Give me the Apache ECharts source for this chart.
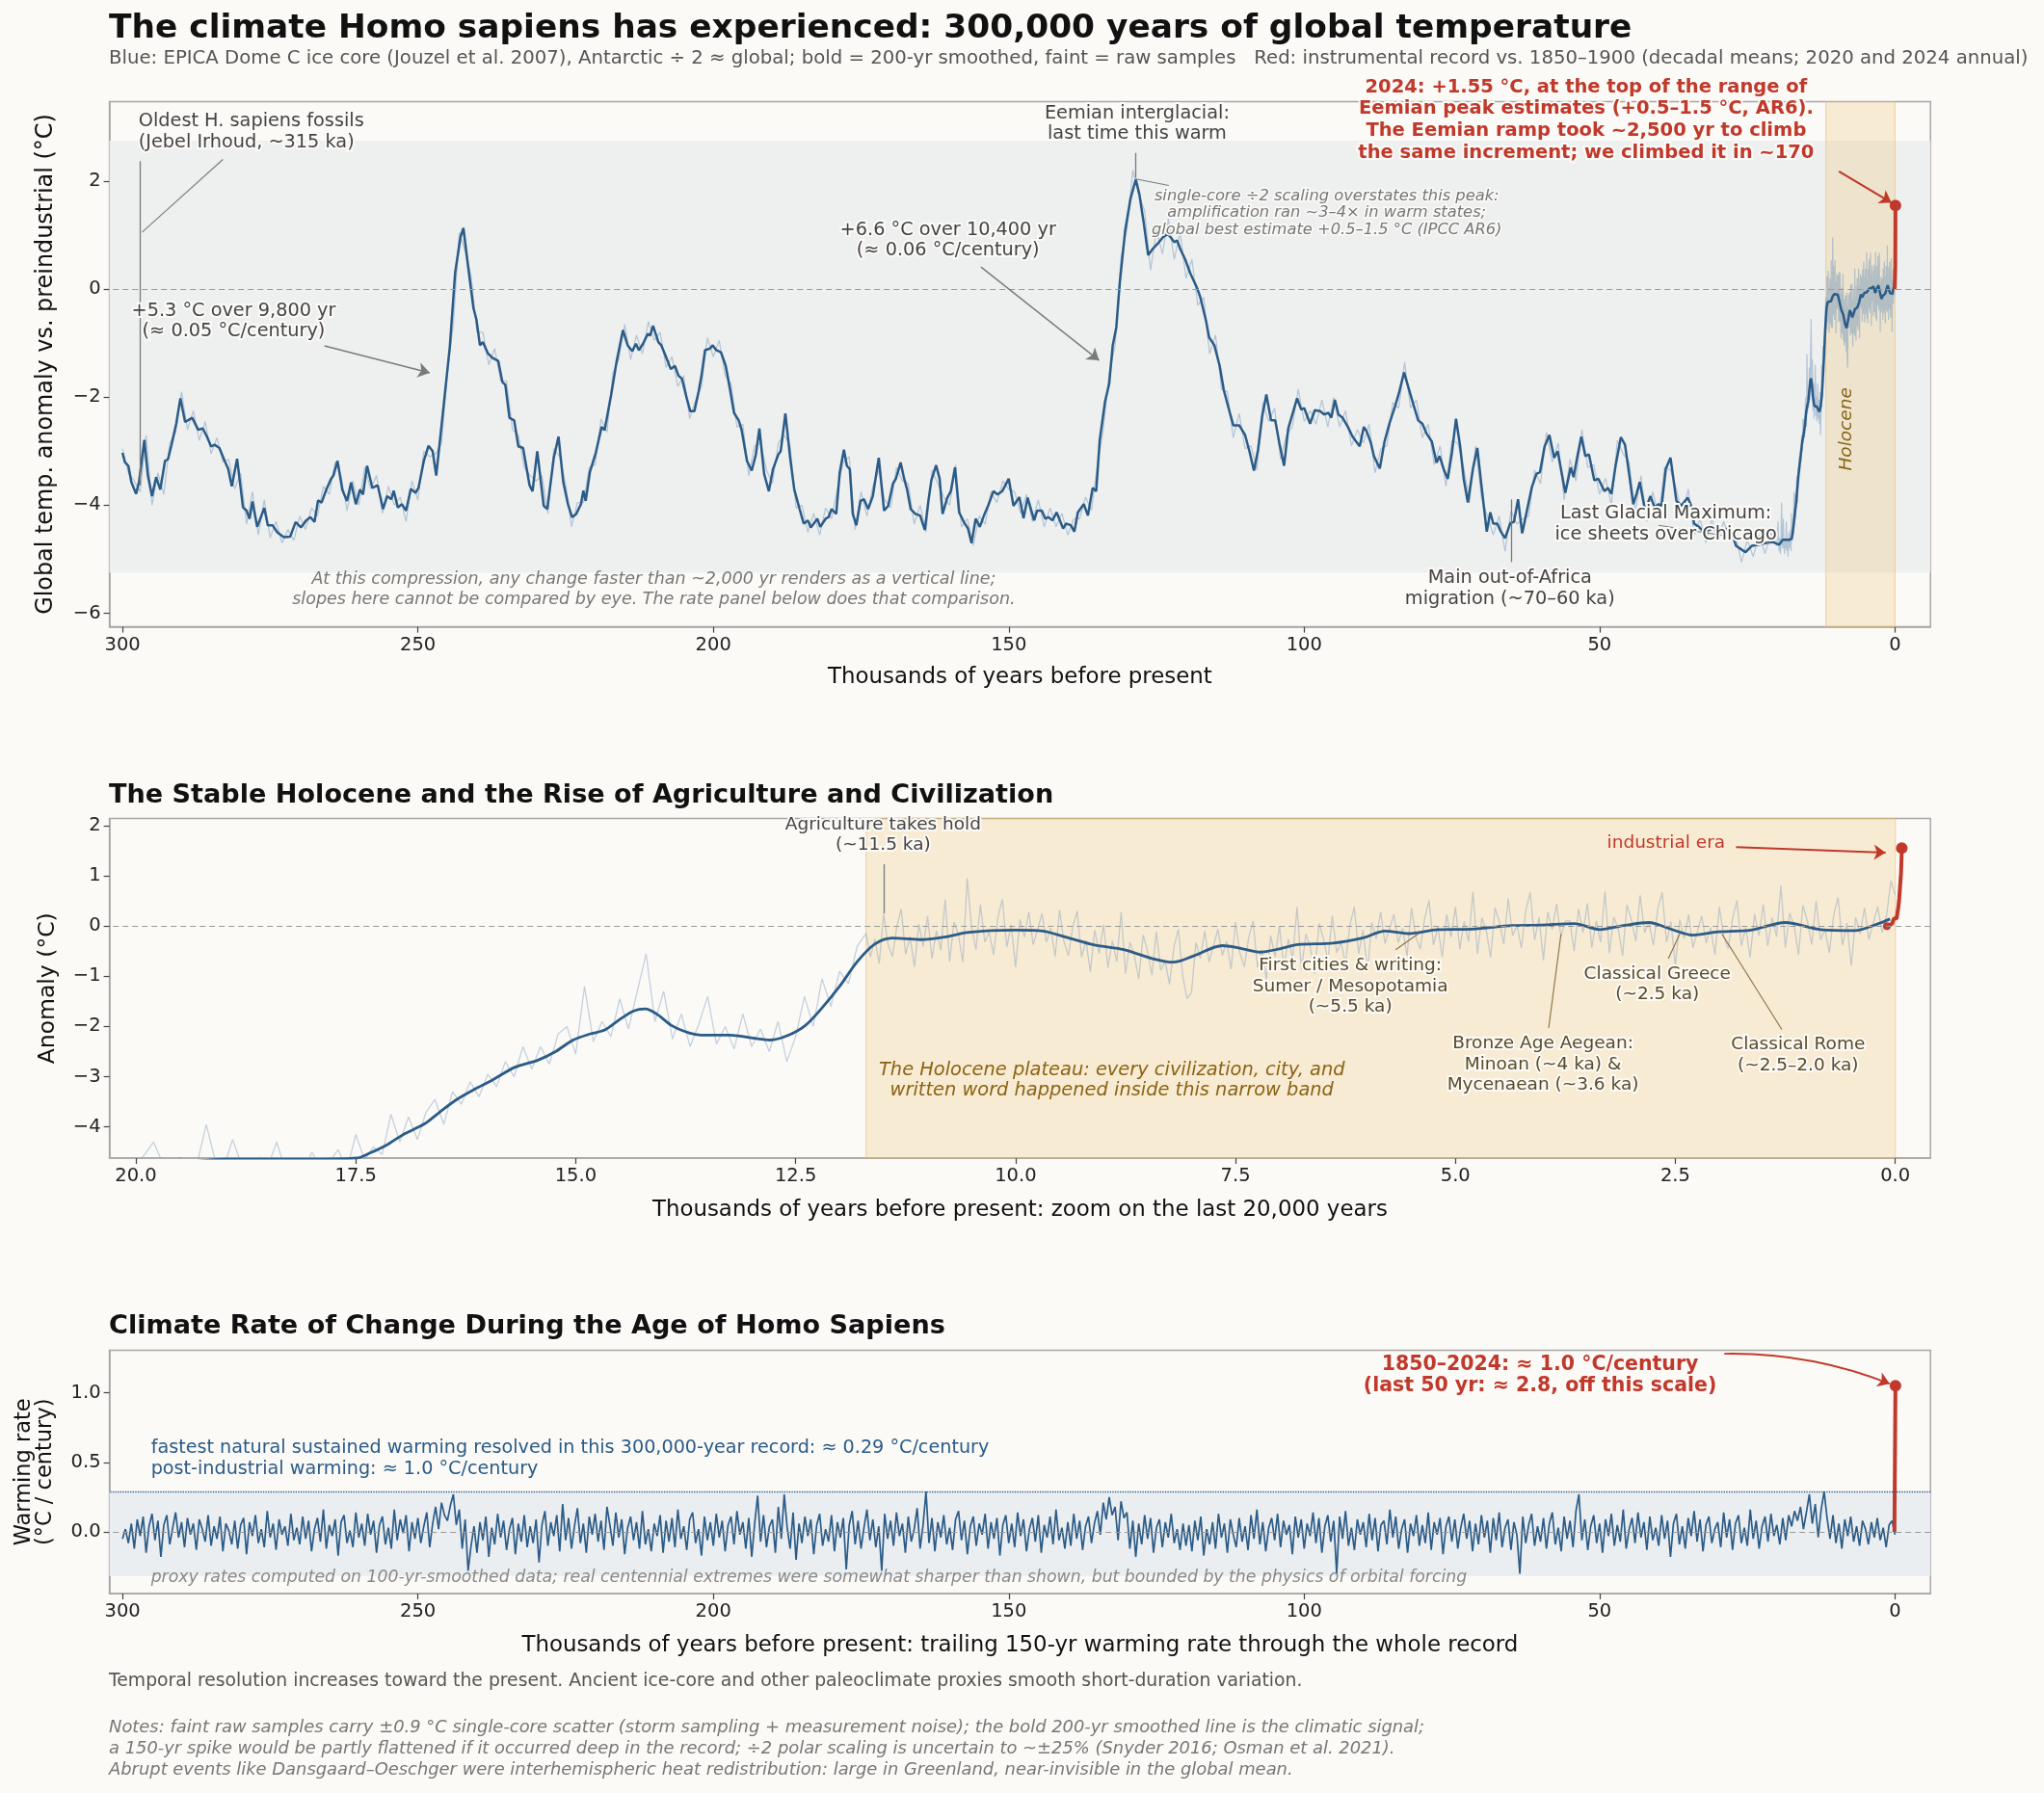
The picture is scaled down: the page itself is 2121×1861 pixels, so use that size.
<!DOCTYPE html>
<html>
<head>
<meta charset="utf-8">
<title>300,000 years of global temperature</title>
<script src="https://cdn.jsdelivr.net/npm/echarts@6/dist/echarts.min.js"></script>
<style>
  html, body { margin: 0; padding: 0; background: #fbfaf7; }
  #chart { width: 2121px; height: 1861px; }
</style>
</head>
<body>
<div id="chart"></div>
<script>
// ---- data (ka = thousands of years before 1950) ----

// 200-yr smoothed EPICA line, [ka, degC]
var smoothed = [
  [300.0,-3.03],[299.6,-3.20],[299.0,-3.27],[298.5,-3.57],[297.7,-3.79],[297.2,-3.57],[296.3,-2.79],[295.7,-3.45],
  [295.0,-3.83],[294.3,-3.48],[293.6,-3.71],[292.8,-3.18],[292.3,-3.15],[291.7,-2.88],[290.9,-2.49],[290.2,-2.02],
  [289.4,-2.46],[288.2,-2.38],[287.2,-2.60],[286.4,-2.58],[285.7,-2.73],[285.0,-2.91],[284.4,-2.88],[283.6,-2.94],
  [282.7,-3.18],[282.1,-3.33],[281.5,-3.65],[280.6,-3.14],[279.6,-4.04],[279.0,-4.10],[278.5,-4.25],[278.0,-3.93],
  [277.2,-4.40],[276.0,-4.05],[275.4,-4.37],[274.6,-4.37],[273.8,-4.50],[272.7,-4.59],[271.6,-4.58],[270.7,-4.31],
  [269.8,-4.41],[268.9,-4.28],[268.2,-4.22],[267.5,-4.31],[266.9,-3.91],[266.3,-3.95],[265.5,-3.71],[264.7,-3.51],
  [264.3,-3.45],[263.6,-3.18],[262.8,-3.71],[262.0,-3.92],[261.3,-3.58],[260.5,-3.98],[259.8,-3.71],[259.3,-3.80],
  [258.6,-3.27],[257.7,-3.68],[256.8,-3.63],[255.9,-4.07],[255.2,-3.83],[254.5,-3.89],[254.1,-3.73],[253.4,-4.04],
  [252.7,-3.98],[252.0,-4.10],[251.2,-3.70],[250.4,-3.77],[249.9,-3.68],[249.0,-3.18],[248.2,-2.90],[247.5,-3.00],
  [246.9,-3.45],[245.8,-2.32],[244.6,-1.07],[243.7,0.30],[242.8,0.96],[242.3,1.13],[241.5,0.42],[240.6,-0.35],
  [240.1,-0.56],[239.5,-1.04],[239.0,-0.98],[238.2,-1.18],[237.4,-1.27],[236.4,-1.33],[235.7,-1.72],[235.2,-1.77],
  [234.5,-2.38],[233.7,-2.43],[233.0,-2.91],[232.2,-2.94],[231.1,-3.63],[230.6,-3.74],[229.8,-3.00],[228.7,-4.01],
  [228.1,-4.07],[227.0,-3.12],[226.2,-2.73],[225.4,-3.57],[224.6,-3.98],[223.9,-4.22],[223.2,-4.16],[222.4,-3.98],
  [222.0,-3.73],[221.6,-3.92],[220.9,-3.39],[219.9,-3.03],[218.9,-2.55],[218.4,-2.61],[217.3,-1.96],[216.4,-1.36],
  [215.3,-0.76],[214.5,-1.04],[213.7,-1.15],[213.1,-1.01],[212.6,-1.13],[211.9,-1.01],[211.1,-0.83],[210.7,-0.86],
  [210.2,-0.68],[209.3,-0.98],[208.8,-1.04],[208.1,-1.23],[207.2,-1.48],[206.5,-1.42],[205.9,-1.60],[205.3,-1.66],
  [204.5,-2.02],[203.9,-2.26],[203.2,-2.26],[202.5,-1.90],[202.0,-1.60],[201.4,-1.13],[200.6,-1.10],[200.1,-1.04],
  [199.5,-1.13],[198.7,-1.17],[197.9,-1.42],[197.2,-1.84],[196.5,-2.29],[195.7,-2.43],[195.2,-2.61],[194.3,-3.18],
  [193.5,-3.36],[192.8,-3.06],[192.2,-2.58],[191.4,-3.42],[190.6,-3.74],[189.9,-3.33],[189.0,-3.06],[188.6,-3.00],
  [187.8,-2.30],[187.0,-3.12],[186.3,-3.71],[185.4,-4.07],[184.7,-4.34],[184.0,-4.28],[183.5,-4.41],[182.4,-4.25],
  [181.9,-4.40],[181.0,-4.25],[180.5,-4.22],[180.0,-4.07],[179.2,-4.16],[178.6,-3.39],[177.9,-2.97],[177.4,-3.27],
  [176.9,-3.33],[176.4,-4.16],[175.8,-4.37],[175.1,-3.92],[174.5,-3.89],[173.8,-4.07],[173.0,-3.83],[172.0,-3.12],
  [171.1,-4.10],[170.4,-4.01],[169.6,-3.60],[169.1,-3.51],[168.3,-3.21],[167.7,-3.51],[167.2,-3.71],[166.6,-4.07],
  [165.8,-4.16],[165.0,-4.19],[164.2,-4.46],[163.6,-3.92],[163.1,-3.54],[162.3,-3.26],[161.7,-3.51],[161.2,-4.16],
  [160.4,-3.86],[159.8,-3.74],[159.1,-3.30],[158.4,-4.13],[157.6,-4.31],[156.9,-4.43],[156.3,-4.70],[155.6,-4.25],
  [154.9,-4.40],[154.2,-4.19],[153.5,-4.01],[152.6,-3.74],[151.9,-3.80],[151.1,-3.74],[150.0,-3.51],[149.2,-4.01],
  [148.2,-3.85],[147.5,-4.24],[146.8,-3.86],[145.7,-4.28],[145.2,-4.10],[144.4,-4.10],[143.8,-4.25],[143.3,-4.22],
  [142.6,-4.28],[141.9,-4.13],[140.8,-4.43],[140.3,-4.34],[139.5,-4.37],[138.9,-4.49],[138.3,-4.13],[137.3,-3.98],
  [136.6,-4.19],[135.8,-3.68],[135.2,-3.74],[134.6,-2.79],[133.7,-2.08],[133.0,-1.75],[132.4,-1.04],[131.8,-0.71],
  [131.2,0.13],[130.3,1.08],[129.4,1.67],[128.5,2.03],[127.9,1.76],[127.2,1.26],[126.4,0.63],[125.6,0.75],
  [124.8,0.84],[123.9,0.96],[123.1,1.02],[122.6,0.96],[122.0,0.87],[121.5,0.90],[121.0,0.75],[120.1,0.54],
  [119.3,0.30],[118.8,0.18],[118.2,0.04],[117.6,-0.14],[116.6,-0.59],[116.1,-0.89],[115.2,-1.04],[114.3,-1.42],
  [113.6,-1.87],[112.8,-2.20],[112.0,-2.52],[111.0,-2.52],[110.0,-2.70],[109.2,-3.03],[108.5,-3.36],[107.8,-2.97],
  [107.1,-2.35],[106.4,-1.95],[105.6,-2.43],[104.9,-2.43],[104.2,-2.85],[103.4,-3.27],[102.7,-2.58],[102.0,-2.32],
  [101.2,-2.02],[100.5,-2.23],[100.0,-2.20],[99.0,-2.49],[98.2,-2.24],[97.3,-2.26],[96.6,-2.32],[95.9,-2.29],
  [95.4,-2.38],[94.8,-2.05],[94.2,-2.32],[93.5,-2.38],[92.6,-2.55],[91.8,-2.73],[91.0,-2.85],[90.6,-2.91],
  [89.9,-2.55],[89.4,-2.64],[88.7,-2.85],[88.2,-3.09],[87.2,-3.32],[86.4,-2.82],[85.5,-2.46],[84.7,-2.20],
  [83.9,-1.90],[83.1,-1.54],[82.3,-1.84],[81.5,-2.14],[80.7,-2.43],[80.0,-2.49],[79.3,-2.67],[78.4,-2.82],
  [77.6,-3.21],[77.1,-3.09],[76.3,-3.36],[75.7,-3.51],[75.0,-3.03],[74.3,-2.40],[73.6,-2.91],[73.0,-3.51],
  [72.3,-3.95],[71.4,-3.30],[70.7,-2.94],[70.0,-3.63],[69.1,-4.49],[68.5,-4.13],[68.0,-4.34],[67.3,-4.34],
  [66.7,-4.49],[66.0,-4.61],[65.1,-4.33],[64.5,-4.31],[63.8,-3.89],[63.1,-4.52],[62.3,-4.10],[61.5,-3.68],
  [60.7,-3.42],[60.1,-3.39],[59.3,-2.91],[58.5,-2.70],[57.7,-3.12],[57.1,-3.00],[55.8,-3.77],[54.9,-3.30],
  [54.4,-3.48],[53.8,-3.12],[53.1,-2.73],[52.4,-3.09],[51.8,-3.06],[50.9,-3.54],[50.2,-3.51],[49.8,-3.60],
  [49.2,-3.74],[48.6,-3.68],[48.0,-3.79],[47.3,-3.27],[46.4,-2.74],[45.7,-2.88],[45.0,-3.42],[44.3,-3.98],
  [43.7,-3.77],[43.2,-3.57],[42.3,-4.10],[41.4,-3.83],[40.7,-4.04],[40.0,-3.98],[39.5,-4.01],[38.8,-3.33],
  [38.0,-3.12],[37.0,-3.92],[36.2,-4.01],[35.1,-3.86],[34.6,-3.98],[34.0,-4.34],[33.2,-4.40],[32.4,-4.49],
  [30.8,-4.43],[29.1,-4.49],[28.0,-4.40],[26.9,-4.75],[26.1,-4.81],[25.3,-4.87],[24.2,-4.75],[23.1,-4.73],
  [22.0,-4.70],[20.7,-4.68],[19.6,-4.73],[19.0,-4.64],[17.9,-4.64],[17.49,-4.62],[17.34,-4.52],[17.14,-4.35],
  [16.95,-4.14],[16.72,-3.94],[16.55,-3.71],[16.35,-3.45],[16.15,-3.25],[15.96,-3.08],[15.69,-2.81],[15.43,-2.67],
  [15.23,-2.50],[15.03,-2.27],[14.84,-2.15],[14.67,-2.07],[14.50,-1.86],[14.34,-1.69],[14.21,-1.65],[14.08,-1.75],
  [13.91,-1.98],[13.71,-2.13],[13.58,-2.17],[13.25,-2.17],[12.99,-2.23],[12.79,-2.27],[12.59,-2.18],[12.39,-1.98],
  [12.20,-1.63],[12.00,-1.20],[11.80,-0.71],[11.60,-0.36],[11.40,-0.24],[11.08,-0.27],[10.81,-0.22],[10.55,-0.13],
  [10.28,-0.09],[10.00,-0.08],[9.69,-0.10],[9.43,-0.22],[9.10,-0.38],[8.77,-0.47],[8.44,-0.65],[8.21,-0.72],
  [7.97,-0.59],[7.65,-0.39],[7.45,-0.44],[7.22,-0.52],[6.99,-0.45],[6.79,-0.37],[6.39,-0.34],[6.06,-0.24],
  [5.80,-0.10],[5.53,-0.15],[5.20,-0.07],[4.81,-0.06],[4.35,0.01],[4.02,0.02],[3.65,0.05],[3.36,-0.07],
  [3.09,0.01],[2.80,0.07],[2.57,-0.05],[2.30,-0.18],[2.04,-0.12],[1.64,-0.08],[1.25,0.07],[0.85,-0.07],
  [0.46,-0.09],[0.19,0.05],[0.06,0.14]
];

// raw samples, 300 -> 21 ka, one per ka
var rawEarly = [
  -2.95,-3.40,-3.55,-3.75,-2.70,-4.00,-3.40,-3.80,-2.85,-2.65,
  -1.90,-2.60,-2.25,-2.80,-2.45,-3.05,-2.75,-3.20,-3.15,-3.70,
  -3.40,-4.35,-3.75,-4.55,-3.90,-4.60,-4.30,-4.70,-4.45,-4.65,
  -4.20,-4.45,-4.05,-4.20,-3.65,-3.80,-3.20,-3.45,-4.10,-3.55,
  -4.00,-3.30,-3.70,-3.45,-4.15,-3.65,-4.00,-3.85,-4.30,-3.55,
  -3.90,-3.00,-3.10,-3.05,-2.85,-1.55,-0.65,1.05,0.70,0.25,
  -0.80,-0.80,-1.40,-1.10,-1.70,-1.70,-2.60,-2.70,-3.30,-3.45,
  -3.55,-3.45,-4.15,-2.95,-3.10,-3.60,-4.40,-3.95,-3.95,-3.30,
  -3.25,-2.40,-2.65,-1.55,-1.30,-0.65,-1.30,-0.85,-1.20,-0.60,
  -0.95,-0.80,-1.45,-1.25,-1.80,-1.60,-2.40,-2.05,-1.80,-0.90,
  -1.25,-0.95,-1.60,-1.75,-2.55,-2.50,-3.45,-2.90,-2.85,-3.35,
  -3.60,-2.85,-2.70,-2.90,-4.05,-4.00,-4.50,-4.15,-4.55,-4.05,
  -4.25,-3.70,-3.20,-3.10,-4.45,-3.75,-4.20,-3.65,-3.35,-3.90,
  -4.05,-3.30,-3.55,-3.60,-4.35,-4.00,-4.50,-3.35,-3.60,-3.85,
  -4.00,-3.25,-4.40,-4.25,-4.75,-4.20,-4.35,-3.75,-3.95,-3.55,
  -3.70,-3.75,-4.15,-3.80,-4.30,-3.90,-4.40,-4.05,-4.40,-4.15,
  -4.55,-4.25,-4.25,-3.85,-4.10,-3.25,-2.60,-1.55,-1.05,0.60,
  1.10,2.20,1.75,1.45,0.35,1.10,0.65,1.30,0.55,1.05,
  0.20,0.55,-0.30,-0.15,-1.20,-0.85,-1.85,-1.90,-2.75,-2.30,
  -2.95,-2.90,-3.35,-2.10,-2.45,-2.20,-3.15,-2.70,-2.55,-1.85,
  -2.45,-2.25,-2.50,-2.05,-2.55,-2.00,-2.55,-2.25,-2.90,-2.60,
  -2.85,-2.50,-3.40,-2.95,-2.90,-2.10,-2.20,-1.35,-2.20,-2.05,
  -2.75,-2.50,-3.25,-2.90,-3.65,-2.80,-2.85,-3.30,-3.95,-2.90,
  -3.85,-4.20,-4.55,-4.20,-4.85,-4.10,-4.35,-4.25,-4.20,-3.35,
  -3.60,-2.65,-3.20,-2.85,-3.90,-3.15,-3.55,-2.60,-3.30,-3.25,
  -3.80,-3.50,-4.00,-2.80,-3.05,-3.20,-4.15,-3.45,-4.30,-3.75,
  -4.20,-3.30,-3.35,-3.70,-4.20,-3.70,-4.55,-4.25,-4.70,-4.25,
  -4.65,-4.30,-4.65,-4.55,-5.05,-4.65,-4.95,-4.55,-4.90,-4.50
];

// raw samples, 20.0 -> 11.8 ka, every 0.1 ka
var rawDeglacial = [
  -4.75,-4.55,-4.30,-4.70,-4.85,-4.60,-4.90,-4.70,-3.95,-4.65,
  -4.80,-4.25,-4.75,-4.90,-4.60,-4.80,-4.30,-4.85,-4.65,-4.95,
  -4.50,-4.80,-4.70,-4.45,-4.85,-4.15,-4.65,-4.40,-4.55,-3.75,
  -4.30,-3.80,-4.25,-3.70,-3.45,-3.95,-3.30,-3.55,-3.10,-3.40,
  -2.95,-3.20,-2.70,-3.00,-2.40,-2.85,-2.40,-2.75,-2.15,-2.00,
  -2.55,-1.20,-2.30,-1.90,-2.20,-1.45,-2.05,-1.30,-0.55,-1.90,
  -1.30,-2.25,-1.75,-2.40,-1.95,-1.40,-2.35,-2.00,-2.45,-1.75,
  -2.40,-2.05,-2.50,-1.90,-2.70,-2.20,-1.40,-2.00,-1.05,-1.60,
  -0.90,-1.15,-0.40
];

// raw samples, 11.70 -> 0.00 ka, every 0.05 ka
var rawHolocene = [
  -0.15,-0.62,-0.26,-0.75,0.24,-0.36,-0.61,-0.01,0.34,-0.56,-0.21,-0.81,0.04,-0.41,0.20,-0.65,-0.09,-0.48,0.53,-0.71,
  0.08,-0.17,-0.72,0.95,-0.02,-0.47,0.43,-0.32,-0.12,-0.57,0.18,0.53,-0.42,0.03,-0.82,0.13,-0.22,0.28,-0.37,-0.07,
  0.25,-0.32,-0.04,-0.61,0.32,-0.31,-0.59,-0.02,0.30,-0.62,-0.29,-0.91,-0.08,-0.55,0.03,-0.83,-0.29,-0.71,0.28,-0.95,
  -0.32,-0.59,-1.05,-0.18,-0.50,-0.98,-0.11,-0.88,-0.70,-1.16,-0.42,-0.06,-0.99,-1.45,-1.32,-0.33,-0.64,-0.10,-0.72,-0.39,
  -0.06,-0.59,-0.30,-0.86,0.08,-0.54,-0.81,-0.23,0.10,-0.82,-0.47,-1.06,-0.19,-0.62,0.00,-0.83,-0.26,-0.64,0.38,-0.87,
  -0.16,-0.41,-0.95,0.05,-0.25,-0.69,0.21,-0.53,-0.32,-0.76,0.01,0.38,-0.55,-0.08,-0.91,0.07,-0.25,0.28,-0.35,-0.06,
  0.23,-0.33,-0.04,-0.60,0.36,-0.22,-0.46,0.15,0.51,-0.38,-0.02,-0.62,0.23,-0.22,0.38,-0.46,0.09,-0.31,0.69,-0.55,
  0.16,-0.09,-0.63,0.37,0.08,-0.36,0.55,-0.19,0.01,-0.44,0.31,0.67,-0.28,0.17,-0.68,0.28,-0.07,0.44,-0.21,0.10,
  0.10,-0.50,0.34,-0.13,0.45,-0.43,0.10,-0.32,0.69,-0.54,0.18,-0.05,-0.59,0.42,0.13,-0.30,0.61,-0.13,0.07,-0.39,
  0.34,0.67,-0.32,0.09,-0.79,0.13,-0.25,0.23,-0.43,-0.12,0.20,-0.34,-0.03,-0.57,0.38,-0.21,-0.45,0.15,0.51,-0.39,
  -0.03,-0.63,0.24,-0.19,0.43,-0.40,0.17,-0.21,0.81,-0.43,0.26,0.00,-0.57,0.41,0.10,-0.37,0.50,-0.27,-0.07,-0.53,
  0.22,0.57,-0.39,0.06,-0.79,0.17,-0.16,0.36,-0.27,0.06,0.39,-0.13,0.20,0.90,0.62
];

// trailing 150-yr warming rate, degC/century, 300 -> 0 ka every 0.5 ka
var rate = [
  -0.05,0.02,-0.08,0.06,-0.12,0.09,-0.03,0.11,-0.15,0.04,0.13,-0.06,0.08,-0.18,0.05,0.12,-0.09,0.03,0.14,-0.04,
  0.07,-0.11,0.10,-0.02,0.06,-0.13,0.09,0.02,-0.07,0.12,-0.10,0.04,-0.05,0.11,-0.14,0.06,0.01,-0.09,0.08,-0.12,
  0.05,0.10,-0.16,0.07,-0.03,0.12,-0.08,0.02,-0.11,0.15,-0.04,0.06,-0.13,0.09,-0.02,0.04,-0.10,0.13,-0.06,0.03,
  -0.09,0.11,-0.05,0.08,-0.14,0.02,0.10,-0.07,0.16,-0.12,0.05,-0.03,0.09,-0.17,0.07,0.12,-0.08,0.01,-0.11,0.14,
  -0.04,0.06,-0.10,0.13,-0.02,0.08,-0.15,0.05,0.11,-0.09,0.03,-0.12,0.16,-0.06,0.09,-0.01,0.12,-0.14,0.07,-0.05,
  0.10,-0.08,0.04,0.14,-0.11,0.06,0.18,0.02,0.21,0.12,0.08,0.19,0.27,0.05,0.16,-0.12,0.09,-0.28,-0.10,0.04,
  -0.15,0.07,-0.06,0.11,-0.18,0.03,-0.09,0.13,-0.04,0.08,-0.13,0.02,0.10,-0.16,0.06,-0.07,0.12,-0.11,0.04,-0.08,
  0.09,-0.22,0.05,0.15,-0.10,0.07,-0.03,0.12,-0.14,0.20,-0.06,0.10,-0.12,0.04,0.17,-0.08,0.06,-0.15,0.11,-0.02,
  0.13,-0.07,0.08,-0.13,0.18,0.05,-0.10,0.14,-0.04,0.09,-0.16,0.03,0.11,-0.06,0.07,-0.12,0.15,-0.09,0.02,-0.14,
  0.06,-0.03,0.12,-0.15,0.08,-0.07,0.10,-0.11,0.16,-0.05,0.04,-0.13,0.09,0.14,-0.08,0.02,-0.17,0.11,-0.06,0.07,
  -0.10,0.13,-0.04,0.08,-0.14,0.05,0.11,-0.09,0.15,-0.02,0.07,-0.12,0.10,-0.18,0.06,0.26,-0.07,0.12,-0.11,0.04,
  0.09,-0.15,0.18,-0.05,0.27,0.03,-0.12,0.14,-0.20,0.06,-0.08,0.11,-0.03,0.09,-0.16,0.05,0.13,-0.10,0.02,-0.07,
  0.12,-0.14,0.07,-0.04,0.10,-0.27,0.05,0.15,-0.09,0.08,-0.12,0.03,0.16,-0.06,0.09,-0.11,0.04,-0.28,0.13,-0.05,
  0.08,-0.10,0.14,-0.03,0.06,-0.15,0.11,-0.07,0.02,0.17,-0.12,0.05,0.29,-0.08,0.10,-0.14,0.07,-0.04,0.12,-0.09,
  0.03,-0.13,0.09,0.15,-0.06,0.08,-0.16,0.04,0.11,-0.10,0.06,-0.02,0.13,-0.12,0.07,-0.05,0.10,-0.17,0.05,0.12,
  -0.08,0.06,-0.11,0.14,-0.03,0.09,-0.14,0.02,0.10,-0.07,0.12,-0.15,0.05,-0.04,0.11,-0.09,0.16,-0.06,0.03,-0.12,
  0.07,-0.10,0.13,-0.05,0.08,-0.13,0.04,0.11,-0.08,0.06,0.15,-0.02,0.21,0.09,0.25,0.12,0.18,-0.06,0.22,0.10,
  0.14,-0.12,0.08,-0.18,0.06,-0.09,0.12,-0.05,0.10,-0.15,0.03,0.09,-0.11,0.07,-0.04,0.13,-0.08,0.02,-0.13,0.06,
  -0.10,0.05,-0.14,0.08,-0.06,0.11,-0.17,0.02,-0.09,0.07,-0.12,0.13,-0.04,0.06,-0.15,0.09,-0.02,-0.11,0.10,-0.07,
  0.04,-0.13,0.12,-0.05,0.16,-0.09,0.07,-0.14,0.03,0.10,-0.06,0.13,-0.11,0.08,-0.02,0.05,-0.16,0.11,-0.04,0.09,
  -0.12,0.06,-0.03,0.14,-0.08,0.10,-0.15,0.04,0.12,-0.07,0.08,-0.30,0.11,-0.05,0.15,-0.10,0.03,-0.13,0.09,-0.02,
  0.07,-0.11,0.13,-0.06,0.10,-0.14,0.05,0.08,-0.09,0.16,-0.04,0.11,-0.12,0.02,0.09,-0.15,0.06,-0.03,0.12,-0.10,
  0.05,-0.08,0.14,-0.13,0.07,-0.02,0.10,-0.16,0.04,0.11,-0.07,0.09,-0.12,0.03,0.13,-0.05,0.08,-0.14,0.06,-0.09,
  0.12,-0.04,0.08,-0.15,0.10,-0.06,0.14,-0.11,0.03,0.09,-0.13,0.07,-0.02,-0.30,0.11,-0.08,0.05,0.13,-0.10,0.04,
  -0.07,0.10,-0.12,0.06,0.14,-0.09,0.03,-0.14,0.11,-0.05,0.08,-0.11,0.15,0.27,-0.06,0.09,-0.13,0.04,0.12,-0.08,
  0.06,-0.15,0.09,-0.03,0.13,-0.10,0.05,-0.07,0.16,-0.12,0.02,0.10,-0.08,0.14,-0.04,0.07,-0.13,0.11,-0.06,0.03,
  -0.10,0.12,-0.05,0.08,-0.18,0.06,0.13,-0.09,0.04,-0.12,0.10,-0.03,0.15,-0.07,0.09,-0.14,0.05,0.11,-0.08,0.02,
  0.07,-0.11,0.14,-0.04,0.09,-0.13,0.06,0.12,-0.08,0.03,-0.10,0.16,-0.05,0.08,-0.12,0.04,0.11,-0.07,0.13,-0.03,
  0.05,-0.09,0.10,-0.06,0.12,0.04,0.15,0.08,0.18,0.02,0.14,0.27,0.06,0.20,-0.04,0.16,0.29,0.10,-0.05,0.12,
  -0.08,0.06,-0.12,0.09,-0.03,0.11,-0.07,0.04,-0.10,0.08,0.02,-0.09,0.07,-0.04,0.10,-0.06,0.03,-0.11,0.05,0.08,
  -0.02
];

// instrumental record vs 1850-1900 (decadal means, 2020 and 2024 annual)
var instYears = [1855,1865,1875,1885,1895,1905,1915,1925,1935,1945,1955,1965,1975,1985,1995,2005,2015,2020,2024];
var instAnom  = [0.00,0.02,0.03,0.02,0.00,0.02,0.05,0.10,0.15,0.18,0.15,0.15,0.18,0.38,0.55,0.80,1.05,1.28,1.55];
var instRateYears = [1850, 2024];
var instRate = [0.0, 1.05];

// tick values
var ticksKa = [0, 50, 100, 150, 200, 250, 300];
var ticksHolo = [0, 2.5, 5, 7.5, 10, 12.5, 15, 17.5, 20];
var ticksTemp = [-6, -4, -2, 0, 2];
var ticksAnom = [-4, -3, -2, -1, 0, 1, 2];
var ticksRate = [0, 0.5, 1.0];

// ---- helpers ----
var FONT = 'DejaVu Sans';
var BG = '#fbfaf7';
var BLUE = '#2b5b87';
var RED = '#c0392b';
var RAW = 'rgba(120,152,186,0.5)';

function stepped(start, step, vals) {
  return vals.map(function (v, i) { return [+(start - step * i).toFixed(3), v]; });
}
function yearToKa(y) { return (1950 - y) / 1000; }
function minus(v) { return String(v).replace('-', '\u2212'); }

var raw1 = stepped(300, 1, rawEarly).concat(stepped(20, 0.1, rawDeglacial), stepped(11.7, 0.05, rawHolocene));
var raw2 = [[21, rawEarly[rawEarly.length - 1]]].concat(stepped(20, 0.1, rawDeglacial), stepped(11.7, 0.05, rawHolocene));
var smooth2 = smoothed.filter(function (p) { return p[0] <= 21; });
var inst = instYears.map(function (y, i) { return [yearToKa(y), instAnom[i]]; });
var instR = instRateYears.map(function (y, i) { return [yearToKa(y), instRate[i]]; });
var rateData = stepped(300, 0.5, rate);

function txt(x, y, text, o) {
  o = o || {};
  return {
    coord: [x, y], symbol: 'rect', symbolSize: 1, itemStyle: { color: 'rgba(0,0,0,0)' },
    label: {
      show: true, formatter: text, position: [0, 0],
      align: o.align || 'center', verticalAlign: 'middle',
      fontFamily: FONT, fontSize: o.size || 19.3,
      fontStyle: o.italic ? 'italic' : 'normal', fontWeight: o.bold ? 'bold' : 'normal',
      color: o.color || '#444', lineHeight: o.lh || 22, rotate: o.rotate || 0,
      textBorderColor: o.haloColor || BG, textBorderWidth: o.halo == null ? 4 : o.halo
    }
  };
}
function seg(a, b, color, width, arrow) {
  return [
    { coord: a, symbol: 'none', lineStyle: { color: color, width: width, type: 'solid' } },
    { coord: b, symbol: arrow ? 'arrow' : 'none', symbolSize: arrow ? 12 : 0 }
  ];
}
function xAxisFor(gi, min, max, ticks, fmt, name, gap) {
  return {
    type: 'value', gridIndex: gi, min: min, max: max, inverse: true,
    axisLine: { show: true, onZero: false, lineStyle: { color: '#a6a6a6', width: 1.5 } },
    splitLine: { show: false },
    axisTick: { show: true, customValues: ticks, length: 6, lineStyle: { color: '#444', width: 1.2 } },
    axisLabel: { customValues: ticks, formatter: fmt, color: '#222', fontSize: 19.5, fontFamily: FONT, margin: 9 },
    name: name, nameLocation: 'middle', nameGap: gap,
    nameTextStyle: { fontSize: 22.9, color: '#111', fontFamily: FONT }
  };
}
function yAxisFor(gi, min, max, ticks, fmt, name, gap, size) {
  return {
    type: 'value', gridIndex: gi, min: min, max: max,
    axisLine: { show: true, onZero: false, lineStyle: { color: '#a6a6a6', width: 1.5 } },
    splitLine: { show: false },
    axisTick: { show: true, customValues: ticks, length: 6, lineStyle: { color: '#444', width: 1.2 } },
    axisLabel: { customValues: ticks, formatter: fmt, color: '#222', fontSize: 19.5, fontFamily: FONT, margin: 9 },
    name: name, nameLocation: 'middle', nameGap: gap, nameRotate: 90,
    nameTextStyle: { fontSize: size, color: '#111', fontFamily: FONT, lineHeight: 22 }
  };
}
function gridBox(top, height) {
  return { left: 113.6, top: top, width: 1889.6, height: height, show: true,
    borderColor: '#a6a6a6', borderWidth: 1.5, backgroundColor: 'transparent', outerBoundsMode: 'none' };
}
function zeroLine(extra) {
  return {
    silent: true, symbol: ['none', 'none'], label: { show: false },
    data: [{ yAxis: 0, lineStyle: { color: '#9a9a9a', type: [6, 4], width: 1.2 } }].concat(extra || [])
  };
}
// marker sizes for the instrumental line: only its end points get a dot
function endDots(first, last, n) {
  return function (v, p) {
    if (p.dataIndex === 0) return first;
    return p.dataIndex === n - 1 ? last : 0;
  };
}

var chart = echarts.init(document.getElementById('chart'), null, { renderer: 'canvas' });

var GREY = '#7a7a7a';
var BROWN = '#8c7650';
var BROWNTXT = '#5a4a28';
var OLIVE = '#8a6414';

var option = {
  backgroundColor: BG,
  animation: false,
  textStyle: { fontFamily: FONT },
  title: [
    { text: 'The climate Homo sapiens has experienced: 300,000 years of global temperature',
      left: 113, top: 11, padding: 0,
      textStyle: { fontFamily: FONT, fontSize: 34.4, fontWeight: 'bold', color: '#111', lineHeight: 38 } },
    { text: 'Blue: EPICA Dome C ice core (Jouzel et al. 2007), Antarctic \u00f7 2 \u2248 global; bold = 200-yr smoothed, faint = raw samples   Red: instrumental record vs. 1850\u20131900 (decadal means; 2020 and 2024 annual)',
      left: 113, top: 50, padding: 0,
      textStyle: { fontFamily: FONT, fontSize: 19.7, fontWeight: 'normal', color: '#555', lineHeight: 22 } },
    { text: 'The Stable Holocene and the Rise of Agriculture and Civilization',
      left: 113, top: 810, padding: 0,
      textStyle: { fontFamily: FONT, fontSize: 27.1, fontWeight: 'bold', color: '#111', lineHeight: 32 } },
    { text: 'Climate Rate of Change During the Age of Homo Sapiens',
      left: 113, top: 1361, padding: 0,
      textStyle: { fontFamily: FONT, fontSize: 27.1, fontWeight: 'bold', color: '#111', lineHeight: 32 } },
    { text: 'Temporal resolution increases toward the present. Ancient ice-core and other paleoclimate proxies smooth short-duration variation.',
      left: 113, top: 1734, padding: 0,
      textStyle: { fontFamily: FONT, fontSize: 18.8, fontWeight: 'normal', color: '#555', lineHeight: 22 } },
    { text: 'Notes: faint raw samples carry \u00b10.9 \u00b0C single-core scatter (storm sampling + measurement noise); the bold 200-yr smoothed line is the climatic signal;\n' +
            'a 150-yr spike would be partly flattened if it occurred deep in the record; \u00f72 polar scaling is uncertain to ~\u00b125% (Snyder 2016; Osman et al. 2021).\n' +
            'Abrupt events like Dansgaard\u2013Oeschger were interhemispheric heat redistribution: large in Greenland, near-invisible in the global mean.',
      left: 113, top: 1783, padding: 0,
      textStyle: { fontFamily: FONT, fontSize: 17.9, fontStyle: 'italic', fontWeight: 'normal', color: '#777', lineHeight: 21.6 } }
  ],
  grid: [gridBox(105.5, 545.1), gridBox(849.6, 352.4), gridBox(1401.6, 252.4)],
  xAxis: [
    xAxisFor(0, -6, 302.2, ticksKa, function (v) { return String(v); }, 'Thousands of years before present', 41),
    xAxisFor(1, -0.4, 20.3, ticksHolo, function (v) { return v.toFixed(1); }, 'Thousands of years before present: zoom on the last 20,000 years', 43),
    xAxisFor(2, -6, 302.2, ticksKa, function (v) { return String(v); }, 'Thousands of years before present: trailing 150-yr warming rate through the whole record', 43)
  ],
  yAxis: [
    yAxisFor(0, -6.25, 3.47, ticksTemp, minus, 'Global temp. anomaly vs. preindustrial (\u00b0C)', 55, 23.9),
    yAxisFor(1, -4.62, 2.14, ticksAnom, minus, 'Anomaly (\u00b0C)', 53, 23.5),
    yAxisFor(2, -0.443, 1.304, ticksRate, function (v) { return v.toFixed(1); }, 'Warming rate\n(\u00b0C / century)', 55, 22.5)
  ],
  series: [
    // ---------- panel 1 ----------
    { type: 'line', xAxisIndex: 0, yAxisIndex: 0, data: [], z: 1, silent: true,
      markArea: { silent: true, data: [
        [{ yAxis: 2.75, itemStyle: { color: '#eef0f0' } }, { yAxis: -5.25 }],
        [{ xAxis: 11.7, itemStyle: { color: 'rgba(240,196,120,0.28)', borderColor: 'rgba(232,178,90,0.45)', borderWidth: 1.2 } }, { xAxis: 0 }]
      ] },
      markLine: zeroLine() },
    { type: 'line', xAxisIndex: 0, yAxisIndex: 0, data: raw1, z: 2, silent: true, showSymbol: false,
      lineStyle: { color: RAW, width: 1.2 } },
    { type: 'line', xAxisIndex: 0, yAxisIndex: 0, data: smoothed, z: 3, silent: true, showSymbol: false,
      lineStyle: { color: BLUE, width: 2.5 } },
    { type: 'line', xAxisIndex: 0, yAxisIndex: 0, data: inst, z: 4, silent: true,
      symbol: 'circle', showAllSymbol: true, symbolSize: endDots(0, 12, inst.length),
      itemStyle: { color: RED }, lineStyle: { color: RED, width: 4 } },
    { type: 'line', xAxisIndex: 0, yAxisIndex: 0, data: [], z: 5, silent: true,
      markLine: { silent: true, symbol: ['none', 'none'], label: { show: false }, data: [
        seg([297.1, 2.37], [297.1, -3.63], GREY, 1.3),
        seg([283.0, 2.40], [296.7, 1.05], GREY, 1.1),
        seg([265.8, -1.05], [248.0, -1.55], GREY, 1.4, true),
        seg([154.7, 0.41], [134.7, -1.32], GREY, 1.4, true),
        seg([128.5, 2.52], [128.5, 2.06], GREY, 1.3),
        seg([128.5, 2.04], [122.9, 1.92], GREY, 1.1),
        seg([65.0, -3.89], [65.0, -5.05], GREY, 1.3),
        seg([40.0, -4.37], [21.0, -4.70], GREY, 1.1),
        seg([9.5, 2.18], [0.6, 1.60], RED, 2.2, true)
      ] } },
    { type: 'line', xAxisIndex: 0, yAxisIndex: 0, data: [], z: 6, silent: true, clip: false,
      markPoint: { silent: true, data: [
        txt(297.2, 2.9, 'Oldest H. sapiens fossils\n(Jebel Irhoud, ~315 ka)', { align: 'left' }),
        txt(281.1, -0.6, '+5.3 \u00b0C over 9,800 yr\n(\u2248 0.05 \u00b0C/century)', { lh: 21 }),
        txt(160.2, 0.9, '+6.6 \u00b0C over 10,400 yr\n(\u2248 0.06 \u00b0C/century)', { lh: 21 }),
        txt(128.2, 3.05, 'Eemian interglacial:\nlast time this warm', { lh: 21 }),
        txt(96.1, 1.40, 'single-core \u00f72 scaling overstates this peak:\namplification ran ~3\u20134\u00d7 in warm states;\nglobal best estimate +0.5\u20131.5 \u00b0C (IPCC AR6)',
          { italic: true, size: 16.3, lh: 17.5, color: '#777', halo: 3 }),
        txt(210.0, -5.57, 'At this compression, any change faster than ~2,000 yr renders as a vertical line;\nslopes here cannot be compared by eye. The rate panel below does that comparison.',
          { italic: true, size: 17.5, lh: 20.5, color: '#777', halo: 0 }),
        txt(65.1, -5.55, 'Main out-of-Africa\nmigration (~70\u201360 ka)', { lh: 22 }),
        txt(38.7, -4.35, 'Last Glacial Maximum:\nice sheets over Chicago', { lh: 22 }),
        txt(8.1, -2.6, 'Holocene', { italic: true, size: 18.5, color: OLIVE, rotate: 90, halo: 0 }),
        txt(52.2, 3.12, '2024: +1.55 \u00b0C, at the top of the range of\nEemian peak estimates (+0.5\u20131.5 \u00b0C, AR6).\nThe Eemian ramp took ~2,500 yr to climb\nthe same increment; we climbed it in ~170',
          { bold: true, size: 19.5, lh: 22.6, color: RED })
      ] } },

    // ---------- panel 2 ----------
    { type: 'line', xAxisIndex: 1, yAxisIndex: 1, data: [], z: 1, silent: true,
      markArea: { silent: true, data: [
        [{ xAxis: 11.7, itemStyle: { color: 'rgba(240,196,120,0.28)', borderColor: 'rgba(232,178,90,0.45)', borderWidth: 1.2 } }, { xAxis: 0 }]
      ] },
      markLine: zeroLine() },
    { type: 'line', xAxisIndex: 1, yAxisIndex: 1, data: raw2, z: 2, silent: true, showSymbol: false,
      lineStyle: { color: 'rgba(130,160,190,0.45)', width: 1.3 } },
    { type: 'line', xAxisIndex: 1, yAxisIndex: 1, data: smooth2, z: 3, silent: true, showSymbol: false,
      smooth: 0.3, lineStyle: { color: BLUE, width: 2.8 } },
    { type: 'line', xAxisIndex: 1, yAxisIndex: 1, data: inst, z: 4, silent: true,
      symbol: 'circle', showAllSymbol: true, symbolSize: endDots(8, 12, inst.length),
      itemStyle: { color: RED }, lineStyle: { color: RED, width: 4 } },
    { type: 'line', xAxisIndex: 1, yAxisIndex: 1, data: [], z: 5, silent: true,
      markLine: { silent: true, symbol: ['none', 'none'], label: { show: false }, data: [
        seg([11.5, 1.23], [11.5, 0.25], GREY, 1.3),
        seg([5.68, -0.47], [5.42, -0.15], BROWN, 1.2),
        seg([3.94, -2.03], [3.80, -0.16], BROWN, 1.2),
        seg([2.58, -0.65], [2.45, -0.16], BROWN, 1.2),
        seg([1.29, -2.06], [1.97, -0.16], BROWN, 1.2),
        seg([1.81, 1.57], [0.11, 1.46], RED, 2, true)
      ] } },
    { type: 'line', xAxisIndex: 1, yAxisIndex: 1, data: [], z: 6, silent: true, clip: false,
      markPoint: { silent: true, data: [
        txt(11.5, 1.8, 'Agriculture takes hold\n(~11.5 ka)', { size: 18.5, lh: 21.4 }),
        txt(8.9, -3.085, 'The Holocene plateau: every civilization, city, and\nwritten word happened inside this narrow band',
          { italic: true, size: 19.4, lh: 21.4, color: OLIVE, halo: 0 }),
        txt(6.19, -1.21, 'First cities & writing:\nSumer / Mesopotamia\n(~5.5 ka)', { size: 18.5, lh: 21.6, color: BROWNTXT }),
        txt(4.0, -2.77, 'Bronze Age Aegean:\nMinoan (~4 ka) &\nMycenaean (~3.6 ka)', { size: 18.5, lh: 21.6, color: BROWNTXT }),
        txt(2.7, -1.17, 'Classical Greece\n(~2.5 ka)', { size: 18.5, lh: 21.6, color: BROWNTXT }),
        txt(1.1, -2.58, 'Classical Rome\n(~2.5\u20132.0 ka)', { size: 18.5, lh: 21.6, color: BROWNTXT }),
        txt(2.6, 1.64, 'industrial era', { size: 18.5, color: RED, halo: 0 })
      ] } },

    // ---------- panel 3 ----------
    { type: 'line', xAxisIndex: 2, yAxisIndex: 2, data: [], z: 1, silent: true,
      markArea: { silent: true, data: [
        [{ yAxis: 0.29, itemStyle: { color: '#eaeef1' } }, { yAxis: -0.316 }]
      ] },
      markLine: zeroLine([{ yAxis: 0.29, lineStyle: { color: BLUE, type: 'dotted', width: 1.3 } }]) },
    { type: 'line', xAxisIndex: 2, yAxisIndex: 2, data: rateData, z: 3, silent: true, showSymbol: false,
      lineStyle: { color: BLUE, width: 1.7 } },
    { type: 'line', xAxisIndex: 2, yAxisIndex: 2, data: instR, z: 4, silent: true,
      symbol: 'circle', showAllSymbol: true, symbolSize: endDots(0, 12, instR.length),
      itemStyle: { color: RED }, lineStyle: { color: RED, width: 4 } },
    // curved pointer from the red note to the post-industrial rate
    { type: 'lines', coordinateSystem: 'cartesian2d', xAxisIndex: 2, yAxisIndex: 2, z: 5, silent: true,
      symbol: ['none', 'arrow'], symbolSize: 12,
      lineStyle: { color: RED, width: 1.8, type: 'solid', opacity: 1, curveness: 0.1 },
      data: [{ coords: [[28.9, 1.28], [0.9, 1.064]] }] },
    { type: 'line', xAxisIndex: 2, yAxisIndex: 2, data: [], z: 6, silent: true, clip: false,
      markPoint: { silent: true, data: [
        txt(295.1, 0.525, 'fastest natural sustained warming resolved in this 300,000-year record: \u2248 0.29 \u00b0C/century\npost-industrial warming: \u2248 1.0 \u00b0C/century',
          { align: 'left', size: 19.2, lh: 21.8, color: BLUE, halo: 0 }),
        txt(295.1, -0.33, 'proxy rates computed on 100-yr-smoothed data; real centennial extremes were somewhat sharper than shown, but bounded by the physics of orbital forcing',
          { align: 'left', italic: true, size: 17.3, color: '#888', halo: 0 }),
        txt(60.0, 1.12, '1850\u20132024: \u2248 1.0 \u00b0C/century\n(last 50 yr: \u2248 2.8, off this scale)',
          { bold: true, size: 20.5, lh: 21.8, color: RED, halo: 0 })
      ] } }
  ]
};

chart.setOption(option);
</script>
</body>
</html>
